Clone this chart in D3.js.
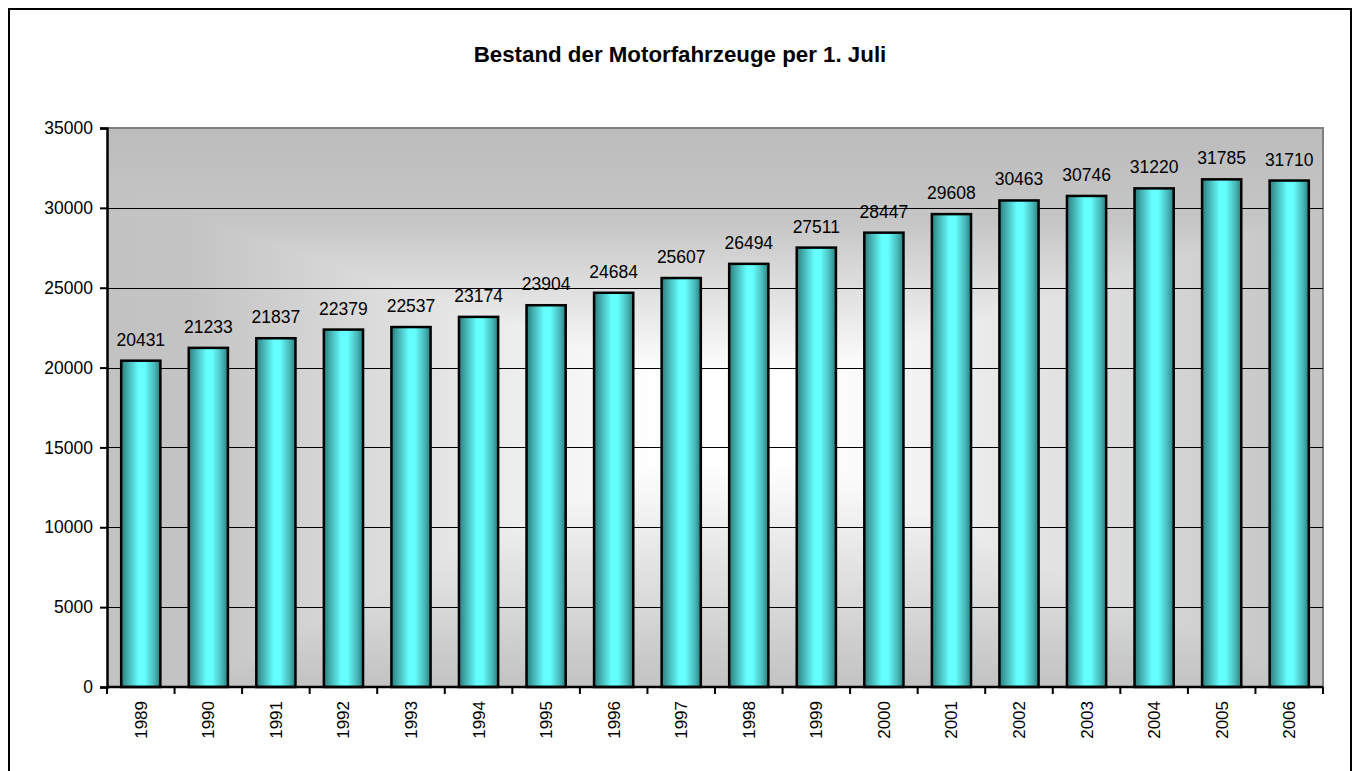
<!DOCTYPE html>
<html><head><meta charset="utf-8">
<script src="https://cdn.jsdelivr.net/npm/d3@7"></script>
<style>body{margin:0;background:#fff}svg{display:block;font-family:"Liberation Sans",Arial,sans-serif}</style>
</head><body><svg id="c" width="1356" height="771"></svg>
<script>
const years = ["1989","1990","1991","1992","1993","1994","1995","1996","1997","1998","1999","2000","2001","2002","2003","2004","2005","2006"];
const values = [20431,21233,21837,22379,22537,23174,23904,24684,25607,26494,27511,28447,29608,30463,30746,31220,31785,31710];
const yTicks = [0,5000,10000,15000,20000,25000,30000,35000];
const title = "Bestand der Motorfahrzeuge per 1. Juli";

const svg = d3.select("#c");
const m = {l:107, t:128, r:1323, b:687};
const defs = svg.append("defs");
const gh = defs.append("linearGradient").attr("id","gh").attr("x1","0").attr("x2","1").attr("y1","0").attr("y2","0");
[[0,"#c2c2c2"],[0.07,"#c4c4c4"],[0.45,"#ffffff"],[0.58,"#ffffff"],[1,"#c2c2c2"]].forEach(s=>gh.append("stop").attr("offset",s[0]).attr("stop-color",s[1]));
const gv = defs.append("linearGradient").attr("id","gv").attr("x1","0").attr("x2","0").attr("y1","0").attr("y2","1");
[[0,"#bcbcbc"],[0.17,"#c6c6c6"],[0.44,"#ffffff"],[0.6,"#ffffff"],[1,"#c2c2c2"]].forEach(s=>gv.append("stop").attr("offset",s[0]).attr("stop-color",s[1]));
const bar = defs.append("linearGradient").attr("id","bar").attr("x1","0").attr("x2","1").attr("y1","0").attr("y2","0");
[[0,"#2b7d7d"],[0.2,"#48b8b8"],[0.45,"#66ffff"],[0.6,"#66ffff"],[0.85,"#48b8b8"],[1,"#2b7d7d"]].forEach(s=>bar.append("stop").attr("offset",s[0]).attr("stop-color",s[1]));

// outer border
svg.append("rect").attr("x",9).attr("y",9).attr("width",1342).attr("height",780).attr("fill","none").attr("stroke","#000").attr("stroke-width",2);

svg.append("text").attr("x",680).attr("y",62).attr("text-anchor","middle").attr("font-size","22.3px").attr("font-weight","bold").text(title);

const x = d3.scaleBand().domain(years).range([m.l,m.r]).paddingInner(0.42).paddingOuter(0.21);
const xb = d3.scaleBand().domain(years).range([m.l,m.r]);
const y = d3.scaleLinear().domain([0,35000]).range([m.b,m.t]);

const bgG = svg.append("g").style("isolation","isolate");
bgG.append("rect").attr("x",m.l).attr("y",m.t).attr("width",m.r-m.l).attr("height",m.b-m.t).attr("fill","url(#gh)");
bgG.append("rect").attr("x",m.l).attr("y",m.t).attr("width",m.r-m.l).attr("height",m.b-m.t).attr("fill","url(#gv)").style("mix-blend-mode","darken");
// top/right gray border
svg.append("path").attr("d",`M${m.l},${m.t}H${m.r}V${m.b}`).attr("fill","none").attr("stroke","#808080").attr("stroke-width",2);

// gridlines
svg.append("g").selectAll("line").data(yTicks.filter(d=>d>0&&d<35000)).join("line")
  .attr("x1",m.l).attr("x2",m.r).attr("y1",d=>Math.round(y(d))+0.5).attr("y2",d=>Math.round(y(d))+0.5).attr("stroke","#000").attr("stroke-width",1);

// bars
svg.append("g").selectAll("rect").data(values).join("rect")
  .attr("x",(d,i)=>x(years[i])).attr("width",x.bandwidth())
  .attr("y",d=>y(d)).attr("height",d=>y(0)-y(d))
  .attr("fill","url(#bar)").attr("stroke","#000").attr("stroke-width",2.5);

svg.append("g").selectAll("text").data(values).join("text")
  .attr("x",(d,i)=>x(years[i])+x.bandwidth()/2).attr("y",d=>y(d)-15)
  .attr("text-anchor","middle").attr("font-size","17.5px").text(d=>d);

// y axis
const ya = svg.append("g").attr("transform",`translate(${m.l},0)`).call(d3.axisLeft(y).tickValues(yTicks).tickSize(7).tickPadding(7).tickFormat(d=>d));
ya.select(".domain").attr("stroke-width",2.5);
ya.selectAll(".tick line").attr("stroke-width",2);
ya.selectAll("text").attr("font-size","17.5px").attr("font-family","Liberation Sans, Arial, sans-serif");

// x axis
const xa = svg.append("g").attr("transform",`translate(0,${m.b})`).call(d3.axisBottom(xb).tickSize(0).tickFormat(d=>d));
xa.select(".domain").attr("stroke-width",2.5).attr("d",`M${m.l},0H${m.r}`);
xa.selectAll("text").attr("font-size","17px").attr("font-family","Liberation Sans, Arial, sans-serif")
  .attr("text-anchor","end").attr("transform","rotate(-90)").attr("x",-14).attr("y",0).attr("dy","0.35em");
svg.append("g").selectAll("line").data(d3.range(years.length+1)).join("line")
  .attr("x1",i=>m.l+i*xb.step()).attr("x2",i=>m.l+i*xb.step()).attr("y1",m.b).attr("y2",m.b+7).attr("stroke","#000").attr("stroke-width",2);
</script></body></html>
